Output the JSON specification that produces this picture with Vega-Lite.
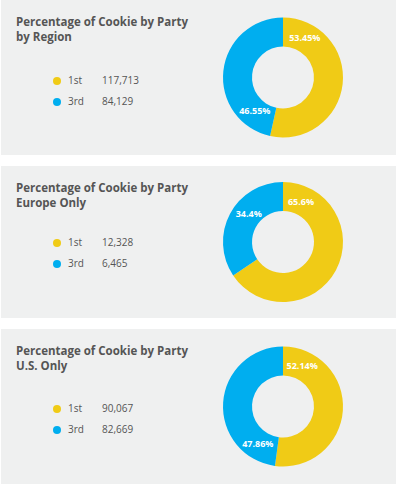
{
  "$schema": "https://vega.github.io/schema/vega-lite/v6.json",
  "background": "#ffffff",
  "padding": {"left": 1, "right": 1, "top": 0, "bottom": 0},
  "config": {
    "font": "Open Sans",
    "view": {"stroke": null, "fill": "#eff0f0"},
    "style": {"cell": {"fill": "#eff0f0", "stroke": null}},
    "title": {"anchor": "start", "frame": "group", "fontSize": 11.5, "fontWeight": "bold", "color": "#555555", "lineHeight": 15, "baseline": "alphabetic", "dx": 15, "offset": -43, "font": "Open Sans"},
    "text": {"font": "Open Sans"}
  },
  "data": {
    "values": [
      {"region": "by Region", "party": "1st", "count": 117713, "pct": 0.5345},
      {"region": "by Region", "party": "3rd", "count": 84129, "pct": 0.4655},
      {"region": "Europe Only", "party": "1st", "count": 12328, "pct": 0.656},
      {"region": "Europe Only", "party": "3rd", "count": 6465, "pct": 0.344},
      {"region": "U.S. Only", "party": "1st", "count": 90067, "pct": 0.5214},
      {"region": "U.S. Only", "party": "3rd", "count": 82669, "pct": 0.4786}
    ]
  },
  "spacing": 11,
  "vconcat": [
    {
      "width": 395, "height": 155,
      "view": {"fill": "#eff0f0", "stroke": null},
      "title": {"text": ["Percentage of Cookie by Party", "by Region"]},
      "transform": [
        {"filter": "datum.region === 'by Region'"},
        {"stack": "pct", "groupby": ["region"], "sort": [{"field": "party", "order": "ascending"}], "as": ["t0", "t1"]}
      ],
      "layer": [
        {"mark": {"type": "point", "filled": true, "shape": "circle", "size": 64, "opacity": 1, "xOffset": -11},
         "encoding": {"x": {"datum": "label", "type": "nominal", "scale": {"type": "point", "domain": ["label", "value"], "range": [67, 101], "padding": 0}, "axis": null},
                      "y": {"field": "party", "type": "nominal", "scale": {"type": "point", "range": [81, 102], "padding": 0}, "axis": null},
                      "color": {"field": "party", "type": "nominal", "scale": {"domain": ["1st", "3rd"], "range": ["#f0cb16", "#00aeef"]}, "legend": null}}},
        {"mark": {"type": "text", "align": "left", "baseline": "middle", "fontSize": 10, "color": "#555555"},
         "encoding": {"x": {"datum": "label", "type": "nominal"}, "y": {"field": "party", "type": "nominal"}, "text": {"field": "party"}}},
        {"mark": {"type": "text", "align": "left", "baseline": "middle", "fontSize": 10, "color": "#555555"},
         "encoding": {"x": {"datum": "value", "type": "nominal"}, "y": {"field": "party", "type": "nominal"}, "text": {"field": "count", "format": ","}}},
        {"mark": {"type": "arc", "outerRadius": 60, "innerRadius": 31, "xOffset": 84.5},
         "encoding": {"theta": {"field": "t0", "type": "quantitative", "scale": {"domain": [0, 1]}}, "theta2": {"field": "t1"},
                      "color": {"field": "party", "type": "nominal"}}},
        {"transform": [{"filter": "datum.party === '1st'"}],
         "mark": {"type": "text", "radius": 45, "thetaOffset": 0.506, "xOffset": 84.5, "fontSize": 9, "fontWeight": "bold", "color": "#ffffff", "align": "center", "baseline": "middle"},
         "encoding": {"theta": {"field": "t0", "type": "quantitative"}, "text": {"field": "pct", "format": ".2~%"}}},
        {"transform": [{"filter": "datum.party === '3rd'"}],
         "mark": {"type": "text", "radius": 44, "thetaOffset": 0.48, "xOffset": 84.5, "fontSize": 9, "fontWeight": "bold", "color": "#ffffff", "align": "center", "baseline": "middle"},
         "encoding": {"theta": {"field": "t0", "type": "quantitative"}, "text": {"field": "pct", "format": ".2~%"}}}
      ]
    },
    {
      "width": 395, "height": 152,
      "view": {"fill": "#eff0f0", "stroke": null},
      "title": {"text": ["Percentage of Cookie by Party", "Europe Only"]},
      "transform": [
        {"filter": "datum.region === 'Europe Only'"},
        {"stack": "pct", "groupby": ["region"], "sort": [{"field": "party", "order": "ascending"}], "as": ["t0", "t1"]}
      ],
      "layer": [
        {"mark": {"type": "point", "filled": true, "shape": "circle", "size": 64, "opacity": 1, "xOffset": -11},
         "encoding": {"x": {"datum": "label", "type": "nominal", "scale": {"type": "point", "domain": ["label", "value"], "range": [67, 101], "padding": 0}, "axis": null},
                      "y": {"field": "party", "type": "nominal", "scale": {"type": "point", "range": [77, 98], "padding": 0}, "axis": null},
                      "color": {"field": "party", "type": "nominal", "scale": {"domain": ["1st", "3rd"], "range": ["#f0cb16", "#00aeef"]}, "legend": null}}},
        {"mark": {"type": "text", "align": "left", "baseline": "middle", "fontSize": 10, "color": "#555555"},
         "encoding": {"x": {"datum": "label", "type": "nominal"}, "y": {"field": "party", "type": "nominal"}, "text": {"field": "party"}}},
        {"mark": {"type": "text", "align": "left", "baseline": "middle", "fontSize": 10, "color": "#555555"},
         "encoding": {"x": {"datum": "value", "type": "nominal"}, "y": {"field": "party", "type": "nominal"}, "text": {"field": "count", "format": ","}}},
        {"mark": {"type": "arc", "outerRadius": 60, "innerRadius": 31, "xOffset": 84.5},
         "encoding": {"theta": {"field": "t0", "type": "quantitative", "scale": {"domain": [0, 1]}}, "theta2": {"field": "t1"},
                      "color": {"field": "party", "type": "nominal"}}},
        {"transform": [{"filter": "datum.party === '1st'"}],
         "mark": {"type": "text", "radius": 44, "thetaOffset": 0.42, "xOffset": 84.5, "fontSize": 9, "fontWeight": "bold", "color": "#ffffff", "align": "center", "baseline": "middle"},
         "encoding": {"theta": {"field": "t0", "type": "quantitative"}, "text": {"field": "pct", "format": ".2~%"}}},
        {"transform": [{"filter": "datum.party === '3rd'"}],
         "mark": {"type": "text", "radius": 44, "thetaOffset": 1.27, "xOffset": 84.5, "fontSize": 9, "fontWeight": "bold", "color": "#ffffff", "align": "center", "baseline": "middle"},
         "encoding": {"theta": {"field": "t0", "type": "quantitative"}, "text": {"field": "pct", "format": ".2~%"}}}
      ]
    },
    {
      "width": 395, "height": 155,
      "view": {"fill": "#eff0f0", "stroke": null},
      "title": {"text": ["Percentage of Cookie by Party", "U.S. Only"]},
      "transform": [
        {"filter": "datum.region === 'U.S. Only'"},
        {"stack": "pct", "groupby": ["region"], "sort": [{"field": "party", "order": "ascending"}], "as": ["t0", "t1"]}
      ],
      "layer": [
        {"mark": {"type": "point", "filled": true, "shape": "circle", "size": 64, "opacity": 1, "xOffset": -11},
         "encoding": {"x": {"datum": "label", "type": "nominal", "scale": {"type": "point", "domain": ["label", "value"], "range": [67, 101], "padding": 0}, "axis": null},
                      "y": {"field": "party", "type": "nominal", "scale": {"type": "point", "range": [80, 101], "padding": 0}, "axis": null},
                      "color": {"field": "party", "type": "nominal", "scale": {"domain": ["1st", "3rd"], "range": ["#f0cb16", "#00aeef"]}, "legend": null}}},
        {"mark": {"type": "text", "align": "left", "baseline": "middle", "fontSize": 10, "color": "#555555"},
         "encoding": {"x": {"datum": "label", "type": "nominal"}, "y": {"field": "party", "type": "nominal"}, "text": {"field": "party"}}},
        {"mark": {"type": "text", "align": "left", "baseline": "middle", "fontSize": 10, "color": "#555555"},
         "encoding": {"x": {"datum": "value", "type": "nominal"}, "y": {"field": "party", "type": "nominal"}, "text": {"field": "count", "format": ","}}},
        {"mark": {"type": "arc", "outerRadius": 60, "innerRadius": 31, "xOffset": 84.5},
         "encoding": {"theta": {"field": "t0", "type": "quantitative", "scale": {"domain": [0, 1]}}, "theta2": {"field": "t1"},
                      "color": {"field": "party", "type": "nominal"}}},
        {"transform": [{"filter": "datum.party === '1st'"}],
         "mark": {"type": "text", "radius": 45, "thetaOffset": 0.44, "xOffset": 84.5, "fontSize": 9, "fontWeight": "bold", "color": "#ffffff", "align": "center", "baseline": "middle"},
         "encoding": {"theta": {"field": "t0", "type": "quantitative"}, "text": {"field": "pct", "format": ".2~%"}}},
        {"transform": [{"filter": "datum.party === '3rd'"}],
         "mark": {"type": "text", "radius": 45, "thetaOffset": 0.46, "xOffset": 84.5, "fontSize": 9, "fontWeight": "bold", "color": "#ffffff", "align": "center", "baseline": "middle"},
         "encoding": {"theta": {"field": "t0", "type": "quantitative"}, "text": {"field": "pct", "format": ".2~%"}}}
      ]
    }
  ]
}
